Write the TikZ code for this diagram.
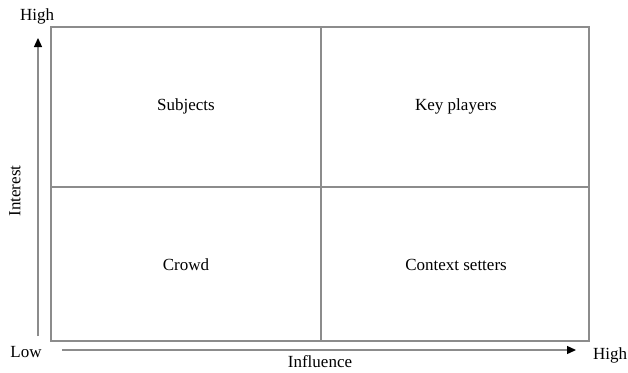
\documentclass[tikz,border=0pt]{standalone}
\usepackage{fontspec}
\setmainfont{Liberation Serif}
\usetikzlibrary{arrows.meta}
\begin{document}
\begin{tikzpicture}[x=1pt,y=-1pt,
  gridline/.style={draw=black!45,line width=1.3pt},
  axisline/.style={draw=black!45,line width=1.3pt,-{Triangle[length=9pt,width=8pt,fill=black,color=black]}},
  lbl/.style={font=\fontsize{17}{20}\selectfont,inner sep=0pt}]
\useasboundingbox (0,0) rectangle (628,372);
% quadrant box
\coordinate (TL) at (51,27);
\coordinate (BR) at (589,341);
\coordinate (TM) at (321,27);
\coordinate (BM) at (321,341);
\coordinate (LM) at (51,187);
\coordinate (RM) at (589,187);
\draw[gridline] (TL) rectangle (BR);
\draw[gridline] (TM) -- (BM);
\draw[gridline] (LM) -- (RM);
% axes
\coordinate (ys) at (38,336);
\coordinate (ye) at (38,38);
\coordinate (xs) at (62,350);
\coordinate (xe) at (576,350);
\draw[axisline] (ys) -- (ye);
\draw[axisline] (xs) -- (xe);
% labels
\node[lbl] (subj) at (186,106) {Subjects};
\node[lbl] (key) at (456,106) {Key players};
\node[lbl] (crowd) at (186,265) {Crowd};
\node[lbl] (ctx) at (456,265) {Context setters};
\node[lbl] (hightop) at (37,16) {High};
\node[lbl] (low) at (26,352) {Low};
\node[lbl] (highright) at (610,355) {High};
\node[lbl] (infl) at (320,362) {Influence};
\node[lbl,rotate=90] (inter) at (15,191) {Interest};
\end{tikzpicture}
\end{document}
